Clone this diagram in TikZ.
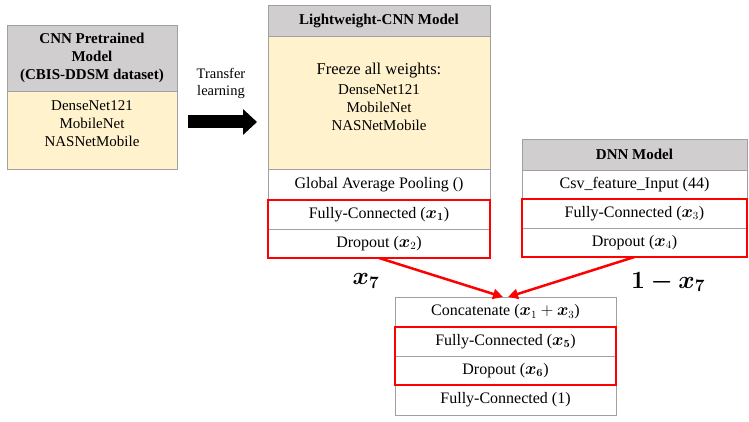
\documentclass[tikz,border=0pt]{standalone}
\usepackage{fontspec}
\setmainfont{Liberation Serif}
\usepackage{bm}
\usetikzlibrary{arrows.meta}
\definecolor{hdrgray}{RGB}{208,206,206}
\definecolor{paleyel}{RGB}{255,242,204}
\definecolor{edgegray}{RGB}{160,160,160}
\definecolor{redline}{RGB}{255,0,0}
\begin{document}
\begin{tikzpicture}[x=1pt,y=1pt,
  cell/.style={draw=edgegray, line width=0.8pt, fill=white, inner sep=0pt, outer sep=0pt,
    anchor=center, align=center, font=\fontsize{16}{19}\selectfont},
  hdr/.style={cell, fill=hdrgray, font=\bfseries\fontsize{15}{18}\selectfont},
  yel/.style={cell, fill=paleyel},
  txt/.style={inner sep=0pt, align=center, font=\fontsize{15}{18}\selectfont},
  redbox/.style={draw=redline, line width=2.5pt},
  redarr/.style={draw=redline, line width=2.5pt, -{Triangle[length=10pt,width=10pt]}},
  bigarr/.style={line width=13pt, -{Triangle[length=14pt,width=25pt]}},
  xlab/.style={inner sep=0pt, font=\fontsize{24}{28}\selectfont}]
\useasboundingbox (0,0) rectangle (749,421);
% left box
\node[hdr, minimum width=170, minimum height=66] (lhead) at (92,363) {CNN Pretrained\\Model\\(CBIS-DDSM dataset)};
\node[yel, minimum width=170, minimum height=78] (lbody) at (92,291) {};
\node[txt] (ltext) at (92,297) {DenseNet121\\MobileNet\\NASNetMobile};
% transfer arrow
\node[txt, font=\fontsize{14.5}{17}\selectfont] (ttext) at (221,337.5) {Transfer\\learning};
\coordinate (ta) at (188,299);
\coordinate (tb) at (257,299);
\draw[bigarr] (ta) -- (tb);
% middle box
\node[hdr, minimum width=222, minimum height=31] (mhead) at (379,400.5) {Lightweight-CNN Model};
\node[yel, minimum width=222, minimum height=133] (myel) at (379,318.5) {};
\node[txt] (mtext) at (379,324) {{\fontsize{16.5}{19}\selectfont Freeze all weights:}\\[2pt]DenseNet121\\MobileNet\\NASNetMobile};
\node[cell, minimum width=222, minimum height=31] (mgap) at (379,236.5) {Global Average Pooling ()};
\node[cell, minimum width=222, minimum height=29] (mfc) at (379,206.5) {Fully-Connected ($\bm{x_1}$)};
\node[cell, minimum width=222, minimum height=29] (mdrop) at (379,177.5) {Dropout ($\bm{x}_2$)};
% DNN box
\node[hdr, minimum width=225, minimum height=31] (dhead) at (634.5,266.5) {DNN Model};
\node[cell, minimum width=225, minimum height=29] (dcsv) at (634.5,236.5) {Csv\_feature\_Input (44)};
\node[cell, minimum width=225, minimum height=29] (dfc) at (634.5,207.5) {Fully-Connected ($\bm{x}_3$)};
\node[cell, minimum width=225, minimum height=29] (ddrop) at (634.5,178.5) {Dropout ($\bm{x}_4$)};
% bottom box
\node[cell, minimum width=221, minimum height=30] (bcat) at (505.5,109) {Concatenate ($\bm{x}_1+\bm{x}_3$)};
\node[cell, minimum width=221, minimum height=29] (bfc) at (505.5,79.5) {Fully-Connected ($\bm{x_5}$)};
\node[cell, minimum width=221, minimum height=29] (bdrop) at (505.5,50.5) {Dropout ($\bm{x_6}$)};
\node[cell, minimum width=221, minimum height=30] (bout) at (505.5,21) {Fully-Connected (1)};
% red frames
\draw[redbox] (mfc.north west) rectangle (mdrop.south east);
\draw[redbox] (dfc.north west) rectangle (ddrop.south east);
\draw[redbox] (bfc.north west) rectangle (bdrop.south east);
% red connectors
\draw[redarr] (mdrop.south) -- ([xshift=-2.5pt]bcat.north);
\draw[redarr] (ddrop.south) -- ([xshift=2.5pt]bcat.north);
% weight labels
\node[xlab] (lx7) at (366,140) {$\bm{x_7}$};
\node[xlab] (rx7) at (668,139) {$\bm{1-x_7}$};
\end{tikzpicture}
\end{document}
